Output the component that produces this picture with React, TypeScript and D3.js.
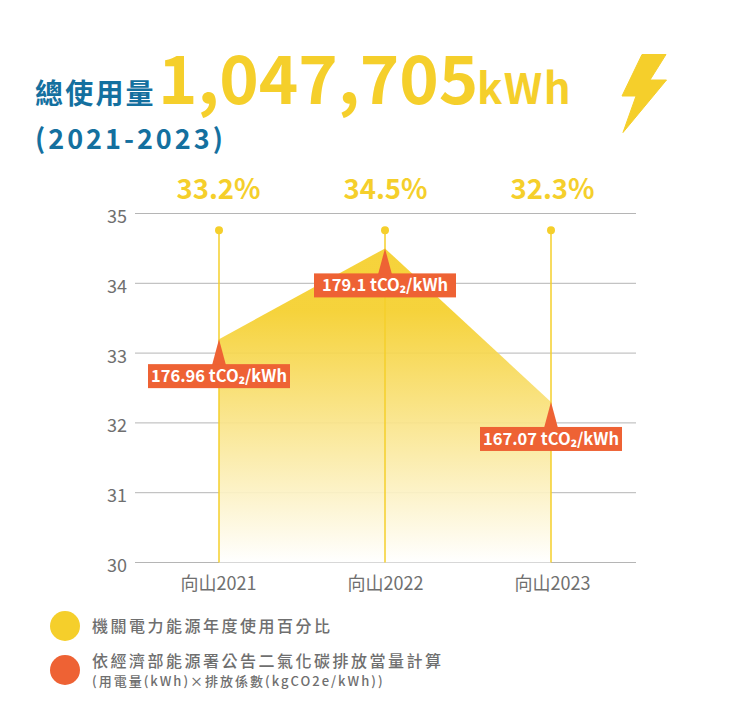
import * as d3 from 'd3';

const schools = ['向山2021', '向山2022', '向山2023'];
const usagePercent = [33.2, 34.5, 32.3];
const percentLabels = ['33.2%', '34.5%', '32.3%'];
const emissionValues = ['176.96', '179.1', '167.07'];
const yTicks = [30, 31, 32, 33, 34, 35];
const stemTop = 34.76;

const YELLOW = '#f5cf2b';
const ORANGE = '#ee6234';
const BLUE = '#14709f';
const GREY = '#6f6f6f';
const FONT = '"Noto Sans CJK TC", "Noto Sans", sans-serif';

export default function App() {
    const x = d3.scaleBand<string>().domain(schools).range([136, 634]);
    // labels sit a touch wider than the stems
    const xLabel = d3.scaleBand<string>().domain(schools).range([135, 636]);
    const y = d3.scaleLinear().domain([30, 35]).range([562.5, 213.5]);
    const cx = (s: string) => (x(s) || 0) + x.bandwidth() / 2;
    const lx = (s: string) => (xLabel(s) || 0) + xLabel.bandwidth() / 2;

    const rows = schools.map((s, i) => ({ s, v: usagePercent[i] }));
    const areaPath = d3.area<{ s: string; v: number }>()
        .x(d => cx(d.s))
        .y0(y(30))
        .y1(d => y(d.v))(rows) || '';

    return (
        <svg width={741} height={710} style={{ position: 'absolute', left: 0, top: 0, background: '#fff' }} fontFamily={FONT}>
            <defs>
                <linearGradient id="fade" x1="0" y1="0" x2="0" y2="1">
                    <stop offset="0.2" stopColor={YELLOW} />
                    <stop offset="1" stopColor="#ffffff" />
                </linearGradient>
            </defs>

            {/* Title */}
            <text x={35} y={104} fill={BLUE} fontSize={28} fontWeight={700} letterSpacing={2.2}>總使用量</text>
            <text x={158} y={104} fill={YELLOW} fontSize={67} fontWeight={700}>1,047,705</text>
            <text x={477} y={104} fill={YELLOW} fontSize={42} fontWeight={700} letterSpacing={1.5}>kWh</text>
            <text x={35} y={149} fill={BLUE} fontSize={27} fontWeight={700} letterSpacing={3}>(2021-2023)</text>
            <polygon
                points="642,54.5 666,54.5 650,80 666.5,80 623,132.5 636,96 622,96"
                fill={YELLOW}
                stroke={YELLOW}
                strokeWidth={1}
                strokeLinejoin="round"
            />

            {/* Grid and y axis */}
            {yTicks.map(t => (
                <g key={t}>
                    <line x1={135} x2={636} y1={y(t)} y2={y(t)} stroke="#b5b5b5" strokeWidth={1} />
                    <text x={127} y={y(t) + 9.5} textAnchor="end" fill={GREY} fontSize={18}>{t}</text>
                </g>
            ))}

            <path d={areaPath} fill="url(#fade)" fillOpacity={0.92} />

            {/* Stems */}
            {rows.map((d, i) => (
                <g key={d.s}>
                    <line x1={cx(d.s)} x2={cx(d.s)} y1={y(stemTop)} y2={y(30)} stroke={YELLOW} strokeWidth={1.5} />
                    <circle cx={cx(d.s)} cy={y(stemTop)} r={4} fill={YELLOW} />
                    <text x={lx(d.s)} y={199} textAnchor="middle" fill={YELLOW} fontSize={27.5} fontWeight={700}>{percentLabels[i]}</text>
                    <text x={lx(d.s)} y={590} textAnchor="middle" fill={GREY} fontSize={18}>{d.s}</text>
                </g>
            ))}

            {/* Emission callouts */}
            {rows.map((d, i) => {
                const px = cx(d.s);
                const py = y(d.v);
                return (
                    <g key={d.s}>
                        <polygon points={`${px},${py} ${px + 7},${py + 26} ${px - 7},${py + 26}`} fill={ORANGE} />
                        <rect x={px - 71} y={py + 25} width={142} height={24} fill={ORANGE} />
                        <text x={px} y={py + 43} textAnchor="middle" fill="#fff" fontSize={16.5} fontWeight={700}>
                            {emissionValues[i]} tCO₂/kWh
                        </text>
                    </g>
                );
            })}

            {/* Legend */}
            <circle cx={65} cy={626} r={15} fill={YELLOW} />
            <text x={92} y={632} fill={GREY} fontSize={16} fontWeight={500} letterSpacing={2.5}>機關電力能源年度使用百分比</text>
            <circle cx={65} cy={670} r={15} fill={ORANGE} />
            <text x={92} y={667} fill={GREY} fontSize={16} fontWeight={500} letterSpacing={2.5}>依經濟部能源署公告二氣化碳排放當量計算</text>
            <text x={92} y={686} fill={GREY} fontSize={13} fontWeight={500} letterSpacing={2}>(用電量(kWh)×排放係數(kgCO2e/kWh))</text>
        </svg>
    );
}
